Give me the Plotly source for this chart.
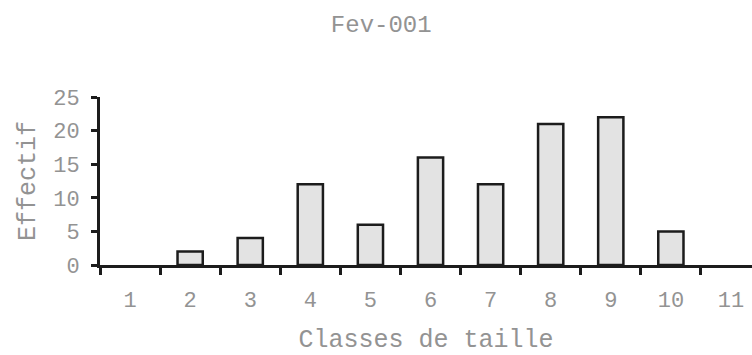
import plotly.graph_objects as go

categories = ["1", "2", "3", "4", "5", "6", "7", "8", "9", "10", "11"]
effectif = [0, 2, 4, 12, 6, 16, 12, 21, 22, 5, 0]
y_ticks = [0, 5, 10, 15, 20, 25]

FONT = "Liberation Mono, Courier New, monospace"
TXT = "#939393"
INK = "#1c1c1c"

fig = go.Figure(
    go.Bar(
        x=categories,
        y=effectif,
        width=0.42,
        marker=dict(
            color="#e3e3e3",
            line=dict(color=INK, width=[2.5 if v > 0 else 0 for v in effectif]),
        ),
    )
)

fig.update_layout(
    width=752,
    height=355,
    margin=dict(l=100, r=0, t=97, b=90, autoexpand=False),
    paper_bgcolor="white",
    plot_bgcolor="white",
    showlegend=False,
    title=dict(
        text="Fev-001",
        x=0.507,
        xanchor="center",
        y=1 - 24 / 355,
        yanchor="middle",
        font=dict(family=FONT, size=24, color=TXT),
    ),
)

fig.update_xaxes(
    type="category",
    range=[-0.5, 10.35],
    automargin=False,
    layer="above traces",
    tickson="boundaries",
    ticks="outside",
    ticklen=7,
    tickwidth=3,
    tickcolor=INK,
    showline=True,
    linecolor=INK,
    linewidth=3,
    showgrid=False,
    zeroline=False,
    ticklabelstandoff=13,
    tickfont=dict(family=FONT, size=22, color=TXT),
    title=dict(
        text="Classes de taille",
        font=dict(family=FONT, size=25, color=TXT),
        standoff=20,
    ),
)

fig.update_yaxes(
    range=[0, 25],
    automargin=False,
    layer="above traces",
    tickvals=y_ticks,
    ticks="outside",
    ticklen=6,
    tickwidth=3,
    tickcolor=INK,
    showline=True,
    linecolor=INK,
    linewidth=3,
    showgrid=False,
    zeroline=False,
    ticklabelstandoff=7,
    tickfont=dict(family=FONT, size=22, color=TXT),
    title=dict(
        text="Effectif",
        font=dict(family=FONT, size=25, color=TXT),
        standoff=11,
    ),
)

fig.write_html(
    "out.html",
    config={"displayModeBar": False},
    post_script="document.body.style.margin='0';document.body.style.overflow='hidden';",
)
